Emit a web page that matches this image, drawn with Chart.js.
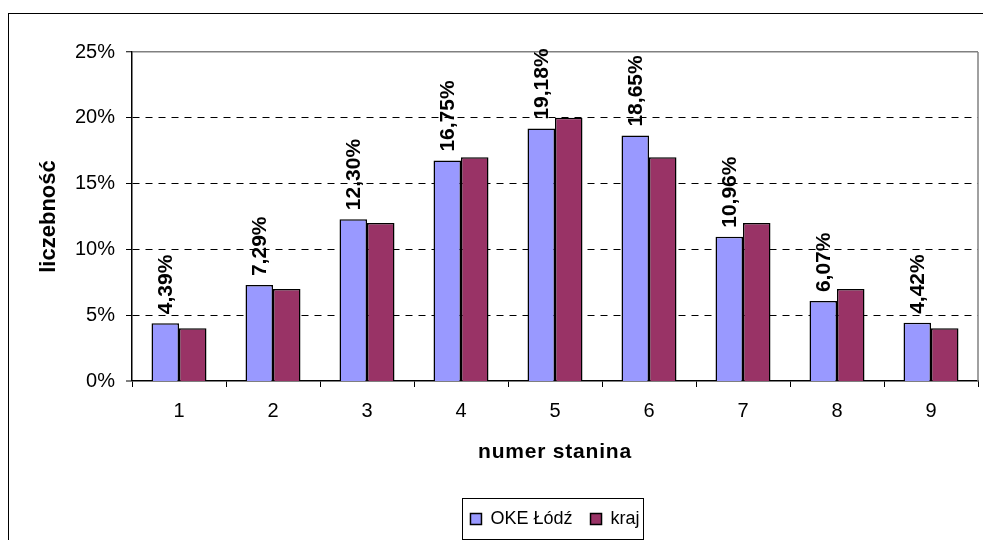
<!DOCTYPE html>
<html>
<head>
<meta charset="utf-8">
<script src="https://cdn.jsdelivr.net/npm/chart.js@4"></script>
<style>
  html, body { margin: 0; padding: 0; background: #fff; }
  #wrap { width: 983px; height: 540px; }
</style>
</head>
<body>
<div id="wrap"><canvas id="stanine_chart" width="983" height="540"></canvas></div>
<script>
    // dane
    var stanines = ["1", "2", "3", "4", "5", "6", "7", "8", "9"];
    var okeLodz = [4.39, 7.29, 12.30, 16.75, 19.18, 18.65, 10.96, 6.07, 4.42];
    var kraj = [4, 7, 12, 17, 20, 17, 12, 7, 4];
    var seriesNames = ["OKE Łódź", "kraj"];
    var yMax = 25;
    var yStep = 5;

    Chart.defaults.font.family = "'Liberation Sans', Arial, sans-serif";
    Chart.defaults.color = "#000";

    function formatPercent(v){
        return v.toFixed(2).replace(".", ",") + "%";
    }

    // etykiety nad słupkami OKE (obrócone o 90 stopni)
    var valueLabels = {
        id: "valueLabels",
        afterDatasetsDraw: function(chart){
            var ctx = chart.ctx;
            var meta = chart.getDatasetMeta(0);
            ctx.save();
            ctx.font = "bold 21px 'Liberation Sans', Arial, sans-serif";
            ctx.fillStyle = "#000";
            ctx.textAlign = "left";
            ctx.textBaseline = "middle";
            meta.data.forEach(function(bar, i){
                ctx.save();
                ctx.translate(bar.x, bar.y - 9);
                ctx.rotate(-Math.PI / 2);
                ctx.fillText(formatPercent(okeLodz[i]), 0, 1);
                ctx.restore();
            });
            ctx.restore();
        }
    };

    // ramki: całego wykresu, obszaru kreślenia i legendy
    var frames = {
        id: "frames",
        beforeDraw: function(chart){
            var ctx = chart.ctx;
            ctx.save();
            ctx.fillStyle = "#fff";
            ctx.fillRect(0, 0, chart.width, chart.height);
            ctx.strokeStyle = "#000";
            ctx.lineWidth = 1;
            ctx.strokeRect(8.5, 13.5, 1000, 600);
            ctx.restore();
        },
        beforeDatasetsDraw: function(chart){
            var ctx = chart.ctx;
            var area = chart.chartArea;
            ctx.save();
            ctx.strokeStyle = "#808080";
            ctx.lineWidth = 1.5;
            ctx.beginPath();
            ctx.moveTo(area.right, area.top);
            ctx.lineTo(area.right, area.bottom);
            ctx.stroke();
            ctx.restore();
        },
        afterDraw: function(chart){
            var boxes = chart.legend.legendHitBoxes;
            if (!boxes || !boxes.length){
                return;
            }
            var first = boxes[0];
            var last = boxes[boxes.length - 1];
            var ctx = chart.ctx;
            ctx.save();
            ctx.strokeStyle = "#000";
            ctx.lineWidth = 1;
            var x1 = Math.round(first.left - 8) + 0.5;
            var x2 = Math.round(last.left + last.width + 3) + 0.5;
            var y1 = Math.round(first.top - 12) + 0.5;
            var y2 = Math.round(first.top + first.height + 11) + 0.5;
            ctx.strokeRect(x1, y1, x2 - x1, y2 - y1);
            ctx.restore();
        },
        afterLayout: function(chart){
            // tytuł osi X ma rozstrzelone litery
            var scale = chart.scales.x;
            if (scale._spacedTitle){
                return;
            }
            var orig = scale.drawTitle;
            scale.drawTitle = function(){
                this.ctx.save();
                this.ctx.letterSpacing = "0.8px";
                orig.apply(this, arguments);
                this.ctx.restore();
            };
            scale._spacedTitle = true;
        }
    };

    var data = {
        labels: stanines,
        datasets: [{
            label: seriesNames[0],
            data: okeLodz,
            backgroundColor: "#9999FF",
            borderColor: "#000",
            borderWidth: 1.5
        }, {
            label: seriesNames[1],
            data: kraj,
            backgroundColor: "#993366",
            borderColor: "#000",
            borderWidth: 1.5
        }]
    };

    var options = {
        responsive: false,
        animation: false,
        layout: {
            padding: { left: 30, top: 52, right: 5, bottom: 2 }
        },
        datasets: {
            bar: {
                categoryPercentage: 0.585,
                barPercentage: 1
            }
        },
        plugins: {
            tooltip: { enabled: false },
            legend: {
                position: "bottom",
                fullSize: false,
                onClick: null,
                labels: {
                    boxWidth: 11,
                    boxHeight: 11,
                    padding: 18,
                    font: { size: 18 },
                    color: "#000"
                }
            }
        },
        scales: {
            x: {
                grid: {
                    offset: true,
                    drawOnChartArea: false,
                    drawTicks: true,
                    tickLength: 6,
                    tickColor: "#000",
                    tickWidth: 1
                },
                border: { color: "#000", width: 1.5 },
                ticks: {
                    font: { size: 20 },
                    padding: 12,
                    maxRotation: 0
                },
                title: {
                    display: true,
                    text: "numer stanina",
                    font: { size: 21, weight: "bold" },
                    padding: { top: 0, bottom: 27 }
                },
                afterFit: function(scale){
                    scale.height = 111;
                }
            },
            y: {
                min: 0,
                max: yMax,
                grid: {
                    color: function(c){
                        if (c.tick.value === yMax) return "#808080";
                        return "#000";
                    },
                    lineWidth: function(c){
                        if (c.tick.value === yMax) return 1.5;
                        if (c.tick.value === 0) return 0;
                        return 1;
                    },
                    tickLength: 6,
                    tickColor: "#000",
                    tickWidth: 1
                },
                border: {
                    color: "#000",
                    width: 1.5,
                    dash: function(c){
                        if (c.tick && (c.tick.value === yMax || c.tick.value === 0)) return [];
                        return [7, 6];
                    }
                },
                ticks: {
                    stepSize: yStep,
                    font: { size: 20 },
                    padding: 11,
                    callback: function(v){ return v + "%"; }
                },
                title: {
                    display: true,
                    text: "liczebność",
                    font: { size: 22, weight: "bold" },
                    padding: { top: 6, bottom: 0 }
                },
                afterFit: function(scale){
                    scale.width = 102;
                }
            }
        }
    };

    new Chart(document.getElementById("stanine_chart"), {
        type: "bar",
        data: data,
        options: options,
        plugins: [frames, valueLabels]
    });
</script>
</body>
</html>
